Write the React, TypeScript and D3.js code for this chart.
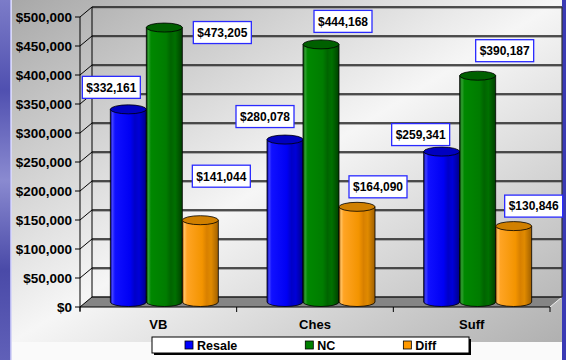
import React from 'react';
import * as d3 from 'd3';

const categories = ['VB', 'Ches', 'Suff'];
const seriesNames = ['Resale', 'NC', 'Diff'];
const resale = [332161, 280078, 259341];
const nc = [473205, 444168, 390187];
const diff = [141044, 164090, 130846];
const yTickValues = [0, 50000, 100000, 150000, 200000, 250000, 300000, 350000, 400000, 450000, 500000];

const seriesValues = [resale, nc, diff];

// layout-only nudges for the data label boxes (relative to each bar top)
const labelNudges = [
  [[-17, -22], [-20, -23], [-21, -17]],
  [[58, 5], [22, -23], [27, -25]],
  [[21, -44], [21, -20], [20, -20]],
];

const palette = [
  { id: 'blue', top: '#0000c0', stops: [['0', '#00008c'], ['0.06', '#4040ff'], ['0.13', '#1010ff'], ['0.55', '#0000f4'], ['0.68', '#0000c8'], ['0.8', '#0000d8'], ['1', '#000088']] },
  { id: 'green', top: '#006000', stops: [['0', '#004000'], ['0.06', '#30a030'], ['0.13', '#008800'], ['0.55', '#007c00'], ['0.68', '#006400'], ['0.8', '#007000'], ['1', '#004000']] },
  { id: 'orange', top: '#d08000', stops: [['0', '#a05800'], ['0.06', '#ffc060'], ['0.13', '#ffa424'], ['0.55', '#f39400'], ['0.68', '#d88000'], ['0.8', '#e08a00'], ['1', '#a06000']] },
];
const legendColors = ['#0000ff', '#008000', '#ff9900'];

const FONT = '"Liberation Sans", Arial, Helvetica, sans-serif';

export default function App() {
  const W = 566;
  const H = 360;
  const depthX = 12;
  const depthY = -10;
  const xLeft = 80;
  const xRight = 550;

  const y = d3.scaleLinear().domain([0, 500000]).range([307, 17]);
  const x = d3.scaleBand<string>().domain(categories).range([xLeft, xRight]).paddingInner(0).paddingOuter(0);
  const groupW = 108;
  const xs = d3.scaleBand<string>().domain(seriesNames).range([0, groupW]);
  const bw = xs.bandwidth();
  const rx = bw / 2;
  const ry = 4.5;
  const fmt = (v: number) => '$' + d3.format(',')(v);

  const floorMidY = y(0) + depthY / 2;

  const bars: any[] = [];
  seriesValues.forEach((vals, si) => {
    vals.forEach((v, ci) => {
      const left = (x(categories[ci]) as number) + (x.bandwidth() - groupW) / 2 + depthX / 2 + (xs(seriesNames[si]) as number);
      const cx = left + rx;
      const topY = y(v) + depthY / 2;
      bars.push({ si, ci, v, cx, topY });
    });
  });

  const labelW = 58;
  const labelH = 22;

  // legend layout
  const legendFont = 12.5;
  const charW: Record<string, number> = { R: 0.722, e: 0.556, s: 0.556, a: 0.556, l: 0.278, N: 0.722, C: 0.722, D: 0.722, i: 0.278, f: 0.333 };
  const textW = (t: string) => t.split('').reduce((s, c) => s + (charW[c] || 0.6) * legendFont, 0);
  let lx = 185;
  const legendItems = seriesNames.map((n, i) => {
    const item = { n, x: lx, c: legendColors[i] };
    lx += 12 + textW(n) + 68;
    return item;
  });

  return (
    <div style={{ position: 'absolute', left: 0, top: 0, width: W, height: H }}>
      <svg width={W} height={H} style={{ display: 'block' }} fontFamily={FONT}>
        <defs>
          <linearGradient id="bg" x1="0" y1="0" x2="1" y2="1">
            <stop offset="0" stopColor="#a8a8a8" />
            <stop offset="0.5" stopColor="#f6f6f6" />
            <stop offset="1" stopColor="#b0b0b0" />
          </linearGradient>
          <linearGradient id="strip" x1="0" y1="0" x2="0" y2="1">
            <stop offset="0" stopColor="#7c7cc8" />
            <stop offset="0.25" stopColor="#5050b0" />
            <stop offset="0.5" stopColor="#8a8ad0" />
            <stop offset="0.75" stopColor="#4a4aa8" />
            <stop offset="1" stopColor="#6060b8" />
          </linearGradient>
          {palette.map((p) => (
            <linearGradient key={p.id} id={'cyl-' + p.id} x1="0" y1="0" x2="1" y2="0">
              {p.stops.map(([o, c]) => (
                <stop key={o} offset={o} stopColor={c} />
              ))}
            </linearGradient>
          ))}
        </defs>

        {/* page background */}
        <rect x={0} y={0} width={W} height={H} fill="#fafafa" />
        <rect x={12} y={0} width={550} height={342} fill="url(#bg)" />
        <rect x={0} y={0} width={10} height={H} fill="url(#strip)" />
        <rect x={10} y={0} width={1.5} height={H} fill="#b8b8f0" />
        <rect x={562} y={0} width={4} height={H} fill="#3a3ab4" />

        {/* floor */}
        <polygon
          points={[
            [xLeft, y(0)],
            [xRight, y(0)],
            [xRight + depthX, y(0) + depthY],
            [xLeft + depthX, y(0) + depthY],
          ].map((p) => p.join(',')).join(' ')}
          fill="#858585"
        />
        <line x1={xRight} y1={y(0)} x2={xRight + depthX} y2={y(0) + depthY} stroke="#f0f0f0" strokeWidth={1} />

        {/* gridlines: back wall + side wall */}
        {yTickValues.map((t) => (
          <g key={t}>
            {t > 0 && (
              <line x1={xLeft + depthX} x2={xRight + depthX} y1={y(t) + depthY + 1.3} y2={y(t) + depthY + 1.3} stroke="#9a9a9a" strokeWidth={1} />
            )}
            <line x1={xLeft + depthX} x2={xRight + depthX} y1={y(t) + depthY} y2={y(t) + depthY} stroke="#1a1a1a" strokeWidth={1.3} />
            <line x1={xLeft} y1={y(t)} x2={xLeft + depthX} y2={y(t) + depthY} stroke="#000" strokeWidth={1} />
            <line x1={xLeft - 5} x2={xLeft} y1={y(t)} y2={y(t)} stroke="#000" strokeWidth={1} />
            <text x={72} y={y(t)} dy="0.36em" textAnchor="end" fontSize={13.5} fontWeight="bold" fill="#000">
              {fmt(t)}
            </text>
          </g>
        ))}
        <line x1={xLeft + depthX} x2={xLeft + depthX} y1={y(500000) + depthY} y2={y(0) + depthY} stroke="#000" strokeWidth={1} />
        <line x1={xRight + depthX} x2={xRight + depthX} y1={y(500000) + depthY} y2={y(0) + depthY} stroke="#333" strokeWidth={1.2} />
        <line x1={xLeft} x2={xLeft} y1={y(500000)} y2={y(0) + 4} stroke="#000" strokeWidth={1} />

        {/* category axis */}
        <line x1={xLeft} x2={xRight} y1={y(0)} y2={y(0)} stroke="#000" strokeWidth={1} />
        {[...categories.map((c) => x(c) as number), xRight].map((tx, i) => (
          <line key={i} x1={tx} x2={tx} y1={y(0)} y2={y(0) + 5} stroke="#000" strokeWidth={1} />
        ))}
        {categories.map((c) => (
          <text key={c} x={(x(c) as number) + x.bandwidth() / 2} y={329} textAnchor="middle" fontSize={13} fontWeight="bold" fill="#000">
            {c}
          </text>
        ))}

        {/* cylinders */}
        {bars.map((b, i) => {
          const p = palette[b.si];
          const l = b.cx - rx;
          const r = b.cx + rx;
          const d = `M${l},${b.topY} L${l},${floorMidY} A${rx},${ry} 0 0 0 ${r},${floorMidY} L${r},${b.topY} Z`;
          return (
            <g key={i}>
              <path d={d} fill={`url(#cyl-${p.id})`} stroke="#000" strokeWidth={0.8} />
              <ellipse cx={b.cx} cy={b.topY} rx={rx} ry={ry} fill={p.top} stroke="#000" strokeWidth={0.8} />
            </g>
          );
        })}

        {/* data labels */}
        {bars.map((b, i) => {
          const [dx, dy] = labelNudges[b.si][b.ci];
          const cx = b.cx + dx;
          const cy = b.topY + dy;
          return (
            <g key={'l' + i}>
              <rect x={cx - labelW / 2} y={cy - labelH / 2} width={labelW} height={labelH} fill="#fff" stroke="#2a2aff" strokeWidth={1.3} />
              <text x={cx} y={cy} dy="0.36em" textAnchor="middle" fontSize={12} fontWeight="bold" fill="#000">
                {fmt(b.v)}
              </text>
            </g>
          );
        })}

        {/* legend */}
        <rect x={154} y={339} width={317} height={16} fill="#000" />
        <rect x={152} y={337} width={317} height={16} fill="#fff" stroke="#000" strokeWidth={1} />
        {legendItems.map((it) => (
          <g key={it.n}>
            <rect x={it.x} y={341} width={8} height={8} fill={it.c} stroke="#000" strokeWidth={0.8} />
            <text x={it.x + 12} y={345} dy="0.36em" fontSize={legendFont} fontWeight="bold" fill="#000">
              {it.n}
            </text>
          </g>
        ))}
      </svg>
    </div>
  );
}
